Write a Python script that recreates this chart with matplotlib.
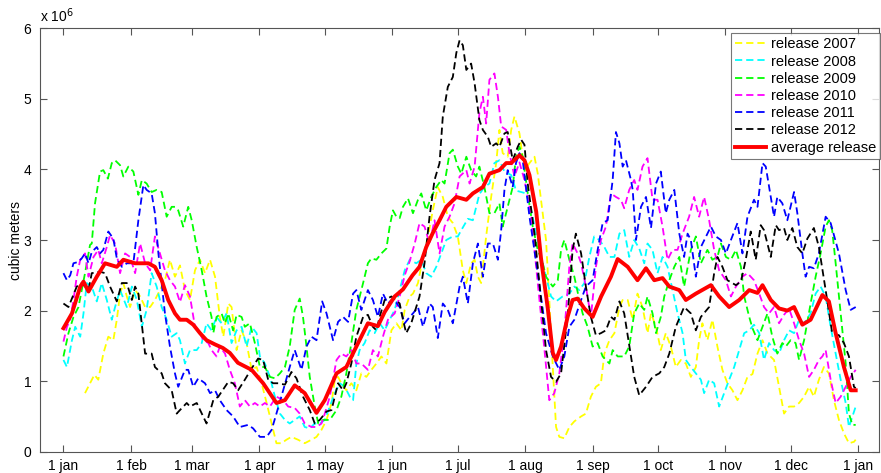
import numpy as np
import matplotlib
matplotlib.use("Agg")
import matplotlib.pyplot as plt

plt.rcParams['font.family'] = ['Liberation Sans', 'DejaVu Sans']

# day of year (0 = 1 jan) and release in 10^6 m3
d2007 = [9.9, 12.2, 14.2, 16, 18.3, 20.6, 22.9, 24.5, 26, 27.5, 29.1, 30.6, 32.9, 35.2, 37.5, 39.8, 42, 44.3, 46.6, 48.9,
         51.2, 53.5, 55.8, 58.1, 60.4, 62.7, 65, 67.3, 69.6, 71.8, 73.4, 75.7, 77.2, 79.5, 81.8, 84.1, 86.4, 88.7, 91, 93.3,
         95.6, 97.8, 100.1, 102.4, 104.7, 107.7, 110.8, 113.9, 116.2, 118.5, 120.8, 123.1, 124.6, 126.1, 127.6, 129.9, 132.2,
         134.5, 136.8, 139.1, 141.4, 143.7, 146, 148.3, 150.6, 152.9, 155.2, 156.7, 159, 160.5, 162.8, 165.1, 167.4, 169.6,
         171.9, 174.2, 176.5, 178.8, 181.1, 183.4, 185, 187.2, 188.8, 190.3, 191.8, 194.1, 196.4, 198.7, 200.2, 201.7, 204,
         205.6, 207.1, 209.4, 211.7, 214, 216.3, 217.8, 219.3, 221.6, 223.1, 224.7, 226.2, 227.7, 230, 232.3, 234.6, 237.7,
         239.9, 242.2, 244.5, 246.8, 248.4, 250.7, 253, 255.3, 256.8, 259.1, 261.4, 263.6, 265.9, 268.2, 269.8, 272.1, 274.3,
         276.6, 278.9, 281.2, 283.5, 285.8, 288.1, 290.4, 291.9, 293.4, 295.7, 298, 300.3, 302.6, 304.9, 307.2, 309.5, 311.8,
         314.1, 316.4, 318.7, 321, 323.3, 326.3, 328.6, 330.9, 333.2, 335.5, 337.8, 340.1, 342.4, 344.6, 346.9, 349.2, 351.5,
         353.8, 356.1, 358.4, 360.7, 363, 363.8]
r2007 = [0.83, 0.97, 1.09, 1.02, 1.39, 1.63, 1.58, 1.87, 2.24, 2.39, 2.2, 2.05, 2.29, 2.2, 2.05, 2.05, 2.15, 2.29, 2.43, 2.72,
         2.48, 2.64, 2.29, 2.15, 2.57, 2.72, 2.53, 2.72, 2.48, 1.91, 1.63, 2.1, 2.05, 1.44, 1.72, 1.54, 1.16, 1.2, 0.97, 0.69,
         0.4, 0.12, 0.12, 0.17, 0.21, 0.17, 0.12, 0.17, 0.21, 0.31, 0.45, 0.69, 1.02, 1.06, 0.97, 0.87, 0.97,
         0.87, 1.11, 1.06, 1.16, 1.25, 1.35, 1.25, 1.72, 1.82, 1.72, 2.01, 2.2, 2.24, 2.39, 2.76, 3.05, 3.42,
         3.75, 3.61, 3.33, 3.24, 3.05, 2.57, 2.39, 2.67, 2.72, 2.48, 2.39, 3.05, 3.61, 4.09, 4.56, 4.23, 4.18,
         4.56, 4.75, 4.51, 3.99, 4.09, 4.18, 3.94, 3.57, 3.0, 2.15, 1.2, 0.35, 0.21, 0.19, 0.35, 0.43, 0.5,
         0.54, 0.78, 0.92, 0.97, 1.39, 1.58, 1.68, 2.05, 2.15, 2.15, 1.87, 2.24, 2.05, 1.68, 1.96, 1.77, 1.44,
         1.68, 1.49, 1.2, 1.3, 1.25, 1.06, 1.2, 1.58, 1.82, 1.58, 1.87, 1.49, 1.16, 0.97, 0.87, 0.73, 0.87,
         1.06, 1.1, 1.39, 1.58, 1.39, 1.3, 0.92, 0.54, 0.64, 0.64, 0.69, 0.78, 0.92, 0.78, 1.02, 1.2, 1.11,
         0.73, 0.45, 0.26, 0.12, 0.14, 0.17]

d2008 = [0, 1.6, 3.9, 5.4, 7.7, 9.2, 10.7, 13, 15.3, 17.6, 19.9, 22.2, 23.7, 26, 29.1, 31.4, 33.7, 36, 38.2, 40.5, 42.8,
         45.1, 47.4, 49.7, 52, 53.5, 55.8, 58.1, 61.2, 63.5, 65.7, 68, 70.3, 72.6, 74.9, 77.2, 79.5, 81.8, 84.1, 86.4, 88.7,
         90.2, 92.5, 94.8, 97.1, 99.4, 101.7, 103.9, 106.2, 108.5, 110.8, 113.1, 115.4, 117.7, 120, 122.3, 124.6, 126.9,
         129.2, 131.5, 133, 134.5, 136, 138.3, 140.6, 142.9, 145.2, 147.5, 149.8, 152.1, 154.4, 156.7, 159, 162, 164.3,
         166.6, 168.9, 171.2, 173.5, 175.8, 178.8, 181.1, 182.7, 185.7, 188, 191, 193.3, 195.6, 197.9, 200.2, 202.5, 205.6,
         207.8, 210.2, 212.5, 214.8, 217.1, 219.3, 221.6, 223.9, 226.2, 229.2, 232.3, 234.6, 236.9, 239.2, 241.5, 243.7,
         246.1, 248.4, 250.7, 253, 255.3, 257.5, 259.8, 262.1, 264.4, 266.7, 268.2, 270.5, 272.8, 275.1, 277.4, 279.7, 282,
         284.3, 285.8, 288.1, 290.4, 292.7, 294.2, 296.5, 298.8, 301.1, 303.4, 305.7, 308, 310.3, 312.6, 314.9, 317.1,
         319.5, 321.7, 324, 326.3, 328.6, 330.9, 333.2, 335.5, 337.8, 340.1, 343.1, 345.4, 347.7, 350, 352.3, 354.6, 356.9,
         359.2, 360.7, 362.3, 363.8]
r2008 = [1.3, 1.2, 1.58, 1.77, 1.63, 1.96, 2.39, 2.34, 2.13, 2.39, 2.15, 1.87, 2.05, 2.29, 2.05, 2.34, 2.15, 1.77, 2.01, 2.53, 2.34,
         2.05, 1.87, 1.63, 1.68, 1.58, 1.25, 1.44, 1.44, 1.54, 1.82, 1.72, 1.91, 1.82, 1.96, 1.54, 1.72, 1.77, 1.49, 1.77, 1.68,
         1.35, 1.25, 1.06, 0.78, 0.54, 0.45, 0.4, 0.45, 0.5, 0.35, 0.33, 0.4, 0.4, 0.45, 0.64, 0.83, 0.97,
         0.92, 0.78, 0.73, 1.25, 1.44, 1.54, 1.72, 1.68, 1.82, 1.72, 1.87, 2.01, 2.29, 2.57, 2.72, 2.67, 2.72,
         2.53, 2.48, 2.62, 2.81, 3.0, 3.05, 3.05, 3.14, 3.3, 3.28, 3.65, 3.75, 3.8, 4.09, 4.13, 3.97, 3.92,
         3.7, 3.68, 3.66, 3.42, 3.09, 2.76, 2.48, 2.2, 2.13, 2.2, 2.24, 2.34, 2.29, 2.39, 2.76, 3.05,
         3.0, 2.9, 2.76, 2.76, 3.09, 3.14, 2.76, 3.0, 2.88, 2.67, 2.95, 2.86, 2.53, 2.76, 2.62, 2.29, 1.96,
         1.68, 1.3, 1.2, 1.11, 1.02, 0.83, 1.02, 0.97, 0.64, 0.83, 1.02, 1.2, 1.44, 1.68, 1.72, 1.8,
         1.68, 1.3, 1.54, 1.44, 1.39, 1.58, 1.72, 1.68, 1.87, 1.82, 1.96, 2.24, 2.34, 2.2, 1.77, 1.39, 1.02,
         0.69, 0.35, 0.5, 0.64]

d2009 = [0, 2.3, 4.6, 6.9, 9.9, 12.2, 13, 14.5, 16.8, 18.3, 20.4, 22.2, 23.7, 26, 27.5, 29.8, 32.1, 34.4, 36, 38.2, 40.5,
         42.8, 45.1, 47.4, 49.7, 51.2, 52.7, 55, 57.3, 58.9, 61.2, 63.5, 65.7, 68, 68.8, 70.3, 72.6, 74.2, 75.7, 77.9, 79.5,
         81.8, 83.3, 85.6, 87.9, 90.2, 92.5, 94.8, 97.1, 99.4, 101.7, 103.9, 106.2, 108.5, 110, 111.6, 113.1, 115.4, 117,
         119.2, 122.3, 125.4, 127.6, 129.9, 132.2, 134.5, 137.6, 139.8, 141.4, 143.7, 146, 148.3, 149.8, 151.3, 152.9, 154.4,
         155.9, 158.2, 160.5, 162.8, 164.3, 166.6, 168.9, 171.2, 173.5, 175, 177.3, 178.8, 181.1, 182.7, 185, 187.2, 189.5,
         191, 193.3, 195.6, 197.9, 200.2, 201.7, 204, 206.3, 207.8, 209.4, 210.9, 213.2, 215.5, 217.8, 220.1, 221.6, 223.1,
         224.7, 227, 228.5, 230, 232.3, 234.6, 236.9, 238.4, 240.7, 243, 245.3, 247.6, 250.7, 252.2, 254.5, 257.5, 259.8,
         262.1, 264.4, 266.7, 268.2, 270.5, 272.1, 274.3, 275.9, 278.2, 280.5, 282.8, 285, 288.1, 290.4, 292.7, 295.7, 298,
         300.3, 301.9, 304.2, 306.5, 308.8, 311.1, 312.6, 314.9, 316.4, 318.7, 321, 323.3, 325.5, 327.8, 330.1, 331.7,
         333.9, 336.2, 337.8, 340.1, 343.1, 345.4, 347.7, 350, 351.5, 353, 354.6, 356.9, 359.2, 360.7, 362.3, 363.8]
r2009 = [1.35, 1.68, 1.91, 2.05, 2.53, 2.93, 2.95, 3.52, 3.97, 3.99, 3.87, 4.09, 4.13, 4.06, 3.9, 4.04, 3.97, 3.64, 3.85, 3.8, 3.68,
         3.71, 3.68, 3.33, 3.47, 3.47, 3.42, 3.19, 3.47, 3.28, 2.9, 2.57, 2.2, 1.91, 1.68, 1.91, 1.96, 1.82, 1.96, 1.72, 1.94,
         1.91, 1.77, 1.82, 1.54, 1.2, 1.2, 1.06, 1.04, 1.11, 1.2, 1.49, 2.01, 2.17, 1.91, 1.49, 1.06, 0.64, 0.4,
         0.45, 0.45, 0.59, 0.78, 1.11, 1.54, 2.01, 2.39, 2.67, 2.74, 2.72, 2.81, 2.88, 3.19, 3.42, 3.33, 3.31,
         3.47, 3.59, 3.38, 3.57, 3.66, 3.42, 3.61, 3.75, 3.85, 3.8, 4.23, 4.28, 4.04, 3.94, 4.18, 3.99, 3.9,
         4.04, 3.75, 3.38, 3.38, 3.52, 3.19, 3.47, 3.75, 4.18, 4.32, 4.18, 3.66, 3.19, 2.86, 2.67, 2.48, 2.41,
         2.34, 2.43, 2.86, 3.0, 2.72, 2.48, 2.15, 1.96, 1.77, 1.49, 1.54, 1.35, 1.25, 1.44, 1.35, 1.35, 1.49,
         1.96, 2.1, 2.01, 2.2, 1.96, 1.68, 1.91, 2.2, 2.43, 2.62, 2.76, 2.34, 2.86, 3.05, 2.67, 2.86, 2.72,
         2.76, 2.95, 2.76, 2.72, 2.86, 2.62, 2.2, 1.91, 1.75, 1.58, 1.77, 1.96, 1.63, 1.39, 1.54, 1.49,
         1.58, 1.54, 1.3, 1.58, 2.1, 2.48, 2.81, 3.19, 3.28, 3.14, 2.67, 1.96, 1.25, 0.54, 0.38, 0.38]

d2010 = [0, 1.6, 3.1, 4.6, 6.1, 7.7, 9.9, 11.5, 13.8, 16, 17.6, 19.9, 21.4, 23.7, 26, 28.3, 30.6, 32.9, 35.2, 37.5, 39.8,
         42, 44.3, 46.6, 48.9, 51.2, 53.5, 55.8, 58.1, 60.4, 61.9, 64.2, 66.5, 68, 70.3, 71.8, 74.2, 76.4, 78.7, 81, 83.3,
         85.6, 87.9, 90.2, 92.5, 94.8, 97.8, 100.9, 103.2, 106.2, 108.5, 110.8, 113.9, 116.2, 118.5, 120, 122.3, 125.4,
         127.6, 129.9, 132.2, 134.5, 136.8, 139.8, 142.1, 144.4, 146.7, 149, 152.1, 154.4, 156.7, 159, 161.3, 163.5, 165.8,
         168.1, 170.4, 172.7, 175, 177.3, 179.6, 181.9, 185, 186.5, 188.8, 191, 192.6, 194.1, 195.6, 197.9, 199.5, 201,
         203.3, 204.8, 207.1, 209.4, 211.7, 214.8, 217.8, 220.9, 223.1, 225.4, 227.7, 230, 232.3, 233.8, 236.1, 237.7,
         239.9, 242.2, 244.5, 246.8, 249.1, 251.4, 253.7, 256, 257.5, 259.8, 262.1, 263.6, 265.9, 268.2, 270.5, 272.8,
         275.1, 277.4, 279.7, 282, 284.3, 287.3, 289.6, 291.9, 294.2, 296.5, 298.8, 301.1, 304.2, 306.5, 308.8, 311.8,
         314.1, 317.1, 319.5, 321.7, 324, 326.3, 328.6, 330.9, 333.2, 335.5, 337.8, 340.1, 342.4, 344.6, 346.9, 348.5,
         350, 352.3, 354.6, 356.9, 359.2, 361.5, 363.8]
r2010 = [1.56, 1.77, 1.87, 2.15, 2.48, 2.72, 2.81, 2.48, 2.76, 2.86, 2.67, 2.9, 3.07, 2.95, 2.53, 2.81, 2.76, 2.53, 2.95, 2.67, 2.57,
         3.05, 2.81, 2.57, 2.43, 2.34, 2.12, 2.36, 2.2, 1.77, 1.72, 1.58, 1.54, 1.44, 1.35, 1.49, 1.39, 1.16, 0.97, 0.64, 0.73,
         0.64, 0.69, 0.64, 0.69, 0.64, 0.78, 0.73, 0.64, 0.62, 0.54, 0.4, 0.35, 0.35, 0.4, 0.54, 0.78, 1.3,
         1.39, 1.35, 1.44, 1.25, 1.25, 1.16, 1.44, 1.35, 1.63, 1.87, 1.96, 2.2, 2.5, 2.7, 2.95, 3.24, 3.19,
         2.95, 3.28, 2.81, 3.19, 3.33, 3.52, 3.9, 3.99, 3.8, 4.04, 4.8, 5.03, 4.65, 5.27, 5.36, 5.03, 4.61,
         4.56, 4.23, 3.9, 4.1, 3.85, 3.33, 2.39, 1.44, 0.73, 0.83, 1.11, 1.68, 2.62, 2.95, 2.81, 2.67,
         2.34, 1.91, 2.62, 3.0, 3.19, 3.66, 3.61, 3.57, 3.45, 3.71, 3.85, 3.71, 4.04, 4.16, 3.57, 3.57,
         3.19, 2.72, 2.86, 2.86, 3.09, 3.33, 3.61, 3.33, 3.61, 3.28, 2.86, 2.57, 2.43, 2.2, 2.34, 2.48,
         2.53, 2.43, 2.24, 2.05, 1.96, 2.05, 1.82, 1.94, 2.03, 1.82, 1.58, 1.39, 1.06, 1.16, 1.3, 1.35,
         1.44, 1.02, 0.69, 0.78, 0.92, 1.06, 1.16]

d2011 = [0, 1.6, 3.1, 4.6, 6.9, 8.4, 9.9, 11.5, 13, 15.3, 16.8, 18.3, 20.6, 22.9, 24.5, 26.8, 29.1, 32.1, 34.4, 36.7, 38.2,
         40.5, 42, 43.6, 46.6, 48.9, 51.2, 52.7, 55.8, 57.3, 59.6, 61.9, 65, 67.3, 69.6, 71.8, 74.9, 77.9, 81, 84.8, 87.1,
         90.2, 93.3, 95.6, 97.8, 100.9, 103.9, 106.2, 109.3, 111.6, 113.9, 116.2, 118.8, 120.8, 123.8, 126.1, 128.4, 130.7,
         133, 134.5, 136.8, 139.8, 142.1, 144.4, 146.7, 149, 151.3, 154.4, 156.7, 159, 160.5, 162.8, 165.1, 168.1, 169.6,
         171.9, 174.2, 176.5, 178.8, 181.9, 183.4, 185.7, 188, 190.3, 192.6, 194.9, 197.2, 199.5, 201, 202.5, 204, 206.3,
         207.8, 209.4, 210.9, 214, 217.8, 221.6, 224.7, 227.7, 230, 232.3, 234.6, 237.7, 239.9, 243, 245.3, 247.6, 249.9,
         252.2, 253.7, 255.3, 256.8, 258.3, 260.6, 261.4, 262.9, 265.2, 267.5, 269.8, 272.1, 274.3, 276.6, 278.2, 280.5,
         282.8, 285, 286.6, 288.1, 290.4, 292.7, 295.7, 297.3, 299.6, 301.9, 304.2, 306.5, 309.5, 311.8, 314.1, 317.1,
         318.7, 321, 322.5, 324.8, 326.3, 327.8, 330.1, 332.4, 335.5, 337, 339.3, 340.8, 342.4, 344.6, 346.9, 350, 352.3,
         356.1, 359.2, 361.5, 363.8]
r2011 = [2.53, 2.43, 2.5, 2.67, 2.69, 2.74, 2.81, 2.67, 2.83, 2.9, 2.81, 2.86, 3.12, 3.02, 2.74, 2.62, 2.67, 2.67, 3.28, 3.78, 3.71,
         3.66, 3.38, 2.81, 1.96, 1.49, 1.11, 0.92, 1.16, 1.16, 0.92, 1.04, 0.97, 0.83, 0.87, 0.73, 0.59, 0.5, 0.35, 0.38, 0.33,
         0.21, 0.21, 0.31, 0.54, 0.87, 1.2, 1.44, 1.16, 1.49, 1.63, 1.58, 2.13, 1.96, 1.58, 1.84, 1.91, 1.84,
         2.24, 2.29, 2.01, 2.29, 2.15, 1.91, 2.24, 2.1, 2.17, 2.05, 1.82, 1.91, 1.96, 2.05, 1.77, 2.1, 2.05,
         1.61, 2.1, 2.01, 1.82, 2.34, 2.48, 2.1, 2.67, 2.95, 2.48, 2.95, 2.95, 2.72, 3.14, 3.71, 3.99, 3.75,
         4.09, 4.23, 4.13, 3.33, 2.53, 1.68, 1.35, 1.16, 1.35, 1.77, 1.87, 2.15, 2.34, 2.43, 2.86, 3.24, 3.28,
         3.85, 4.53, 4.37, 4.04, 4.13, 3.85, 3.71, 3.0, 3.47, 3.61, 3.17, 3.8, 3.97, 3.38, 3.57, 3.71,
         3.09, 2.76, 3.09, 3.0, 2.48, 2.9, 3.09, 3.19, 3.05, 3.0, 2.81, 3.0, 3.24, 2.81, 3.33, 3.57,
         3.47, 4.09, 4.04, 3.61, 3.33, 3.61, 3.52, 3.28, 3.68, 3.38, 2.81, 2.48, 2.62, 2.6, 2.81, 3.33, 3.24,
         2.81, 2.29, 2.01, 2.05]

d2012 = [0, 2.3, 6.1, 8.4, 11.5, 13, 16.8, 19.1, 21.4, 24.5, 26.8, 29.1, 31.4, 32.9, 34.4, 37.5, 40.5, 42, 45.1, 46.6, 49.7,
         52, 53.5, 56.6, 58.1, 61.2, 65.7, 68.8, 71.1, 75.7, 77.9, 80.2, 83.3, 86.4, 89.4, 91.7, 94, 96.3, 98.6, 101.7,
         104.7, 107, 110, 113.1, 115.4, 117.7, 120.8, 123.1, 126.1, 128.4, 129.9, 132.2, 134.5, 137.6, 139.8, 142.1, 143.7,
         145.2, 147.5, 150.6, 154.4, 155.9, 157.4, 159.7, 162, 163.5, 165.8, 168.1, 170.4, 172.7, 174.2, 176.5, 178.8,
         180.4, 181.9, 183.4, 185, 187.2, 188.8, 191, 192.6, 194.9, 196.4, 198.7, 200.2, 202.5, 204, 206.3, 208.6, 210.2,
         211.7, 213.2, 216.3, 219.3, 221.6, 223.9, 226.2, 228.5, 231.5, 233.8, 235.3, 237.7, 239.9, 242.2, 244.5, 246.8,
         249.1, 251.4, 253, 255.3, 257.5, 260.6, 262.1, 264.4, 267.5, 270.5, 273.6, 275.9, 278.2, 281.2, 285, 288.1, 290.4,
         292.7, 296.5, 298.8, 300.3, 302.6, 304.9, 308.8, 311.1, 313.3, 315.6, 317.9, 320.2, 321.7, 324.8, 327.1, 328.6,
         330.9, 332.4, 334.7, 337, 339.3, 341.6, 344.6, 346.9, 350, 353, 356.1, 358.4, 360.7, 363, 363.8]
r2012 = [2.1, 2.05, 2.34, 2.39, 2.29, 2.53, 2.55, 2.53, 2.34, 2.13, 2.39, 2.39, 2.15, 2.34, 2.24, 1.39, 1.39, 1.2, 1.11, 0.97, 0.87,
         0.54, 0.59, 0.69, 0.64, 0.69, 0.4, 0.73, 0.78, 0.99, 0.97, 0.87, 1.02, 1.18, 1.32, 1.3, 1.02, 0.97, 0.97, 0.95,
         1.13, 1.04, 0.78, 0.59, 0.4, 0.45, 0.57, 0.59, 0.97, 0.87, 0.97, 1.25, 1.63, 1.91, 1.94, 1.77, 1.72,
         1.91, 2.15, 2.2, 2.1, 1.87, 1.68, 1.82, 2.05, 2.2, 2.67, 3.33, 3.85, 4.09, 4.75, 5.17, 5.31,
         5.65, 5.83, 5.76, 5.41, 5.5, 5.22, 4.7, 4.56, 4.46, 4.32, 4.37, 4.32, 4.51, 4.53, 4.13, 4.32, 4.42,
         4.35, 3.8, 3.09, 2.15, 1.44, 1.06, 0.99, 1.11, 1.91, 2.86, 3.09, 2.81, 2.34, 1.91, 1.65, 1.68,
         1.72, 1.91, 1.87, 2.13, 1.96, 1.35, 1.06, 0.8, 0.92, 1.06, 1.11, 1.2, 1.39, 1.77, 2.05, 1.96, 1.72,
         1.91, 2.05, 2.53, 2.76, 2.62, 2.43, 2.36, 2.41, 2.72, 3.12, 2.72, 3.21, 3.14, 2.76, 3.21, 3.14,
         3.17, 3.0, 3.17, 2.9, 2.81, 3.02, 3.17, 2.9, 2.29, 1.68, 1.65, 1.54, 1.35, 0.92, 0.9]

d_avg = [0, 3.9, 7.7, 9.2, 11.5, 15.3, 19.1, 24.5, 27.5, 32.9, 39, 42, 45.1, 48.1, 51.2, 53.5, 56.6, 59.6, 62.7, 65.7, 69.6,
         73.2, 76.4, 80.1, 86.4, 91.7, 97.8, 101.7, 106.2, 110.8, 116.2, 120, 125.4, 129.9, 134.5, 139.8, 144.4, 147.5,
         152.1, 155.9, 160.3, 163.5, 166.6, 169.6, 172.7, 175.8, 180.4, 185, 188, 192.6, 195.6, 200.2, 203.3, 205.6, 209.4,
         211.7, 214, 217.1, 219.3, 222.4, 224.7, 226.2, 228.5, 231.5, 233.8, 236.1, 239.2, 243, 246.9, 251.4, 254.5, 259.1,
         263.6, 267.5, 271.3, 275.1, 278.2, 282.8, 285.8, 290.4, 297.3, 301.1, 305.7, 310.3, 314.9, 318.7, 321, 324.8,
         328.6, 332.4, 335.5, 339.3, 343.1, 348.5, 351.5, 354.6, 358.4, 361.5, 363.8]
r_avg = [1.75, 1.96, 2.34, 2.41, 2.27, 2.48, 2.67, 2.62, 2.72, 2.67, 2.67, 2.62, 2.43, 2.15, 1.96, 1.87, 1.87, 1.8, 1.68, 1.58, 1.52,
         1.47, 1.4, 1.26, 1.16, 0.97, 0.69, 0.73, 0.94, 0.83, 0.55, 0.73, 1.11, 1.2, 1.49, 1.82, 1.78, 1.98,
         2.2, 2.3, 2.5, 2.62, 2.9, 3.1, 3.28, 3.47, 3.61, 3.57, 3.66, 3.75, 3.94, 3.99, 4.09, 4.09, 4.2,
         4.13, 3.92, 3.4, 2.74, 2.03, 1.4, 1.3, 1.49, 1.91, 2.15, 2.17, 2.03, 1.91, 2.2, 2.48, 2.73, 2.62,
         2.43, 2.6, 2.43, 2.46, 2.34, 2.29, 2.15, 2.24, 2.36, 2.2, 2.05, 2.15, 2.29, 2.25, 2.36, 2.15,
         2.03, 2.0, 2.05, 1.8, 1.87, 2.22, 2.13, 1.68, 1.2, 0.87, 0.87]

month_days = [0, 31, 59, 90, 120, 151, 181, 212, 243, 273, 304, 334, 365]
month_labels = ['1 jan', '1 feb', '1 mar', '1 apr', '1 may', '1 jun', '1 jul', '1 aug', '1 sep', '1 oct', '1 nov',
                '1 dec', '1 jan']

series = [
    (d2007, r2007, '#ffff00', 'release 2007'),
    (d2008, r2008, '#00ffff', 'release 2008'),
    (d2009, r2009, '#00ff00', 'release 2009'),
    (d2010, r2010, '#ff00ff', 'release 2010'),
    (d2011, r2011, '#0000ff', 'release 2011'),
    (d2012, r2012, '#000000', 'release 2012'),
]

fig = plt.figure(figsize=(8.81, 4.73), dpi=100)
ax = fig.add_axes([39.5 / 881, 21.3 / 473, (879 - 39.5) / 881, (451.7 - 28.3) / 473])

for d, r, c, lab in series:
    ax.plot(d, r, color=c, lw=1.3, ls=(0, (4, 2.2)), label=lab)
ax.plot(d_avg, r_avg, color='#ff0000', lw=2.8, label='average release')

ax.set_xlim(-11, 374.5)
ax.set_ylim(0, 6)
ax.set_xticks(month_days)
ax.set_xticklabels(month_labels)
ax.set_yticks(range(7))
ax.tick_params(direction='in', length=5, top=True, right=True, labelsize=10, color='#555555')
ax.tick_params(axis='x', pad=5)
ax.tick_params(axis='y', pad=6)
for s in ax.spines.values():
    s.set_color('#555555')
    s.set_linewidth(0.8)
ax.set_ylabel('cubic meters', fontsize=10, labelpad=0)
ax.text(0.0, 1.008, r'x 10$^6$', transform=ax.transAxes, fontsize=10, va='bottom', ha='left')

leg = ax.legend(loc='upper right', bbox_to_anchor=(880.3 / 881, 1 - 33 / 473), bbox_transform=fig.transFigure,
                fontsize=10.5, frameon=True, fancybox=False, borderaxespad=0,
                handlelength=2.1, handletextpad=0.35, labelspacing=0.22, borderpad=0.3)
leg.get_frame().set_edgecolor('#555555')
leg.get_frame().set_linewidth(0.8)

fig.savefig('out.png', dpi=100)
